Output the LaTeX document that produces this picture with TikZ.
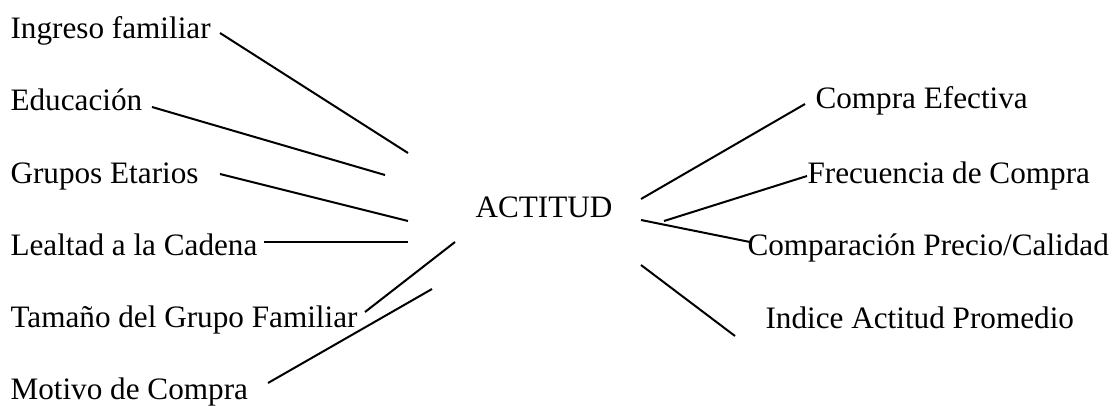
\documentclass[tikz,border=0pt]{standalone}
\usepackage{fontspec}
\setmainfont{Liberation Serif}

\begin{document}
\begin{tikzpicture}[x=0.375pt,y=-0.375pt,
      lbl/.style={anchor=base west,inner sep=0pt,font=\fontsize{11.7}{14}\selectfont},
      link/.style={line width=0.75pt}]
    \useasboundingbox (0,0) rectangle (1112,405);
    % factors on the left, one row every 72px
    \foreach \n/\y/\t in {ing/38/Ingreso familiar, edu/110/Educación,
        gru/183/Grupos Etarios, lea/255/Lealtad a la Cadena,
        tam/327/Tamaño del Grupo Familiar, mot/399/Motivo de Compra}{
      \node[lbl] (\n) at (10,\y) {\t};}
    \node[lbl] (act) at (475,217) {ACTITUD};
    % outcomes on the right
    \node[lbl] (com) at (815,108) {Compra Efectiva};
    \node[lbl] (fre) at (807,183) {Frecuencia de Compra};
    \node[lbl] (cpc) at (747,255) {Comparación Precio/Calidad};
    \node[lbl] (ind) at (765,328) {Indice Actitud Promedio};
    % the connectors stop short of the words, so give their ends by hand
    \foreach \n/\xa/\ya/\xb/\yb in {ing/220/33/408/153, edu/152/107/385/175,
        gru/220/174/408/221, lea/264/242/408/242, tam/365/312/455/242,
        mot/268/383/432/289, com/641/199/805/104, fre/664/221/807/176,
        cpc/641/220/750/242, ind/641/265/735/336}{
      \coordinate (\n-a) at (\xa,\ya);
      \coordinate (\n-b) at (\xb,\yb);
      \draw[link] (\n-a) -- (\n-b);}
  \end{tikzpicture}
\end{document}
